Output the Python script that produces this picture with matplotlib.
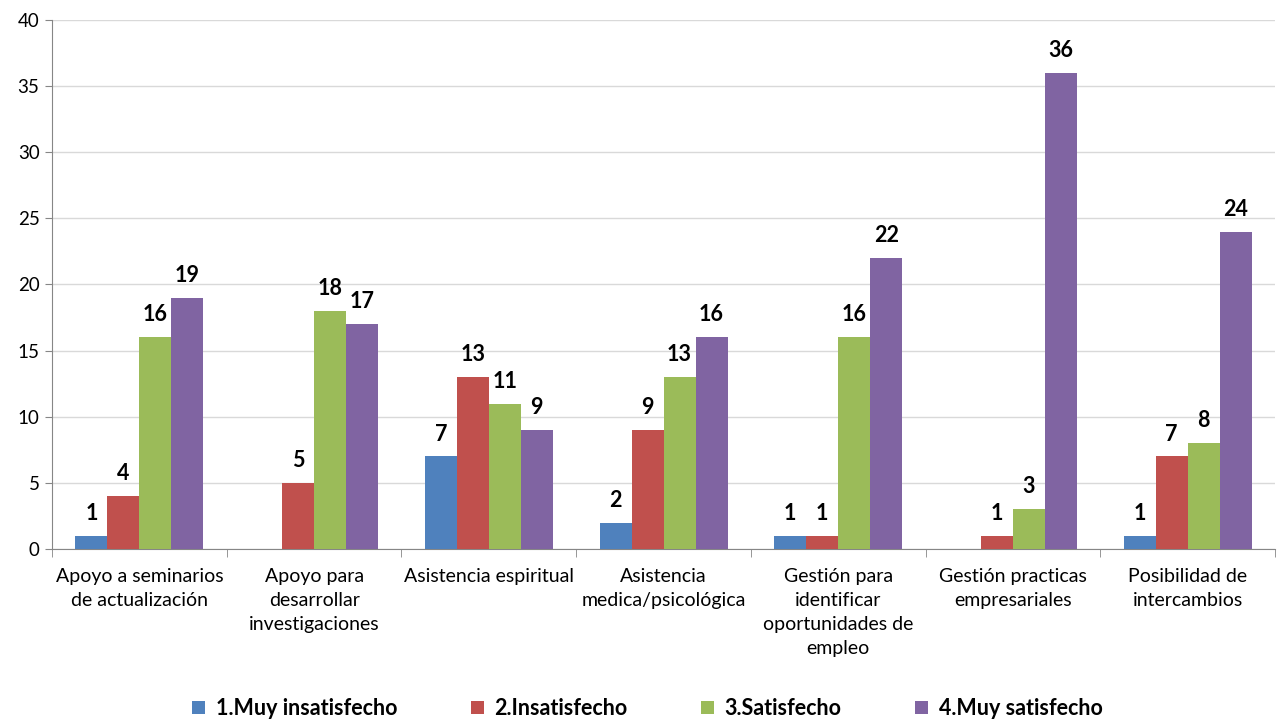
import matplotlib.pyplot as plt
import numpy as np

plt.rcParams['font.family'] = ['Lato', 'DejaVu Sans']

categorias = ['Apoyo a seminarios\nde actualización',
              'Apoyo para\ndesarrollar\ninvestigaciones',
              'Asistencia espiritual',
              'Asistencia\nmedica/psicológica',
              'Gestión para\nidentificar\noportunidades de\nempleo',
              'Gestión practicas\nempresariales',
              'Posibilidad de\nintercambios']
series = ['1.Muy insatisfecho', '2.Insatisfecho', '3.Satisfecho', '4.Muy satisfecho']
muy_insatisfecho = [1, 0, 7, 2, 1, 0, 1]
insatisfecho = [4, 5, 13, 9, 1, 1, 7]
satisfecho = [16, 18, 11, 13, 16, 3, 8]
muy_satisfecho = [19, 17, 9, 16, 22, 36, 24]
colores = ['#4F81BD', '#C0504D', '#9BBB59', '#8064A2']

fig = plt.figure(figsize=(12.82, 7.26), dpi=100)
ax = fig.add_axes([0.0406, 0.2438, 0.954, 0.7287])

x = np.arange(len(categorias))
w = 0.183
valores = [muy_insatisfecho, insatisfecho, satisfecho, muy_satisfecho]
for i, (vals, nombre, col) in enumerate(zip(valores, series, colores)):
    pos = x + (i - 1.5) * w
    ax.bar(pos, vals, width=w, color=col, label=nombre, zorder=3)
    for p, v in zip(pos, vals):
        if v > 0:
            ax.text(p, v + 0.9, str(v), ha='center', va='bottom',
                    fontsize=15.5, fontweight='bold', zorder=4)

ax.set_xlim(-0.5, len(categorias) - 0.5)
ax.set_ylim(0, 40)
ax.set_yticks(range(0, 41, 5))
ax.yaxis.grid(True, color='#D9D9D9', linewidth=1, zorder=0)
ax.set_xticks(x)
ax.set_xticklabels(categorias, fontsize=14, linespacing=1.5)
ax.set_xticks(np.arange(-0.5, len(categorias)), minor=True)
ax.tick_params(axis='x', which='major', length=0, pad=14)
ax.tick_params(axis='x', which='minor', length=6, color='#868686')
ax.tick_params(axis='y', length=5, color='#868686', labelsize=13.5, pad=4)

for s in ['top', 'right']:
    ax.spines[s].set_visible(False)
for s in ['left', 'bottom']:
    ax.spines[s].set_color('#868686')

fig.legend(loc='lower center', ncol=4, frameon=False, bbox_to_anchor=(0.505, -0.017),
           prop={'size': 15.5, 'weight': 'bold'}, handlelength=0.6, handleheight=0.6,
           columnspacing=3.4, handletextpad=0.5)

fig.savefig('out.png', dpi=100)
